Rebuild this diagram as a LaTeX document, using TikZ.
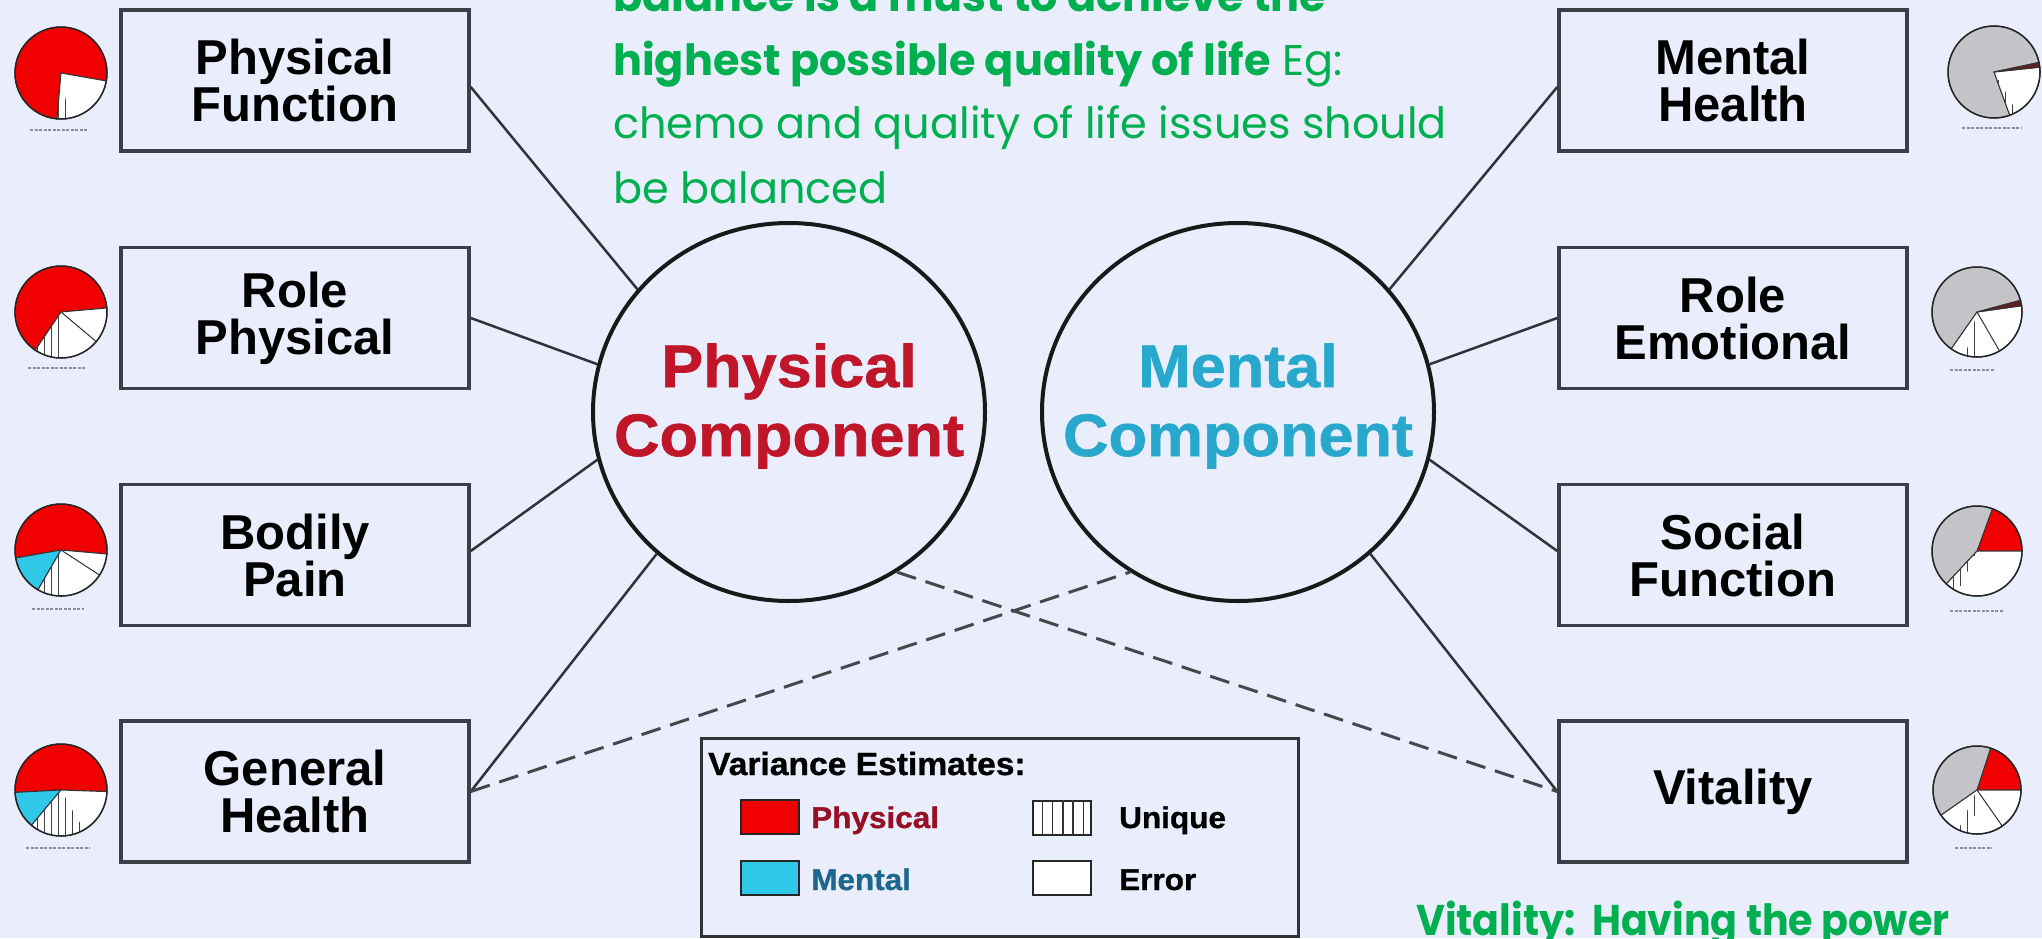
\documentclass[tikz,border=0pt]{standalone}
\usepackage{fontspec}
\setmainfont{Liberation Sans}
\newfontfamily\heavyfont[FakeStretch=1.05,FakeBold=1]{Liberation Sans}
\newfontfamily\greenfont{Poppins}
\newfontfamily\greennarrow[FakeStretch=0.92]{Poppins}
\usetikzlibrary{shapes.geometric}
\definecolor{bg}{RGB}{234,237,251}
\definecolor{boxgray}{RGB}{62,62,72}
\definecolor{linegray}{RGB}{50,50,56}
\definecolor{txtgreen}{RGB}{0,176,80}
\definecolor{pred}{RGB}{240,0,0}
\definecolor{pcyan}{RGB}{48,200,232}
\definecolor{pgray}{RGB}{196,196,200}
\definecolor{sliver}{RGB}{96,32,32}
\definecolor{physred}{RGB}{192,22,42}
\definecolor{mentcyan}{RGB}{40,168,204}
\definecolor{legred}{RGB}{150,16,36}
\definecolor{legblue}{RGB}{28,104,140}
\definecolor{capgray}{RGB}{140,140,150}
\newcommand\pieslice[4]{\filldraw[fill=#1,draw=black!80,line width=1] (0,0) -- (#2:#4) arc[start angle=#2, end angle=#3, radius=#4] -- cycle;}
\newcommand\pieStripes[3]{\begin{scope}\clip (0,0) -- (#1:#3) arc[start angle=#1, end angle=#2, radius=#3] -- cycle;
\foreach \sx in {-45,-38,...,45}{\draw[line width=1,black!75] (\sx,-50) -- (\sx,50);}\end{scope}}
\tikzset{
  box/.style={draw=boxgray, line width=3.5, fill=bg, minimum width=348, minimum height=141, inner sep=0,
    font=\fontsize{49}{47}\selectfont\bfseries, align=center},
  comp/.style={draw=black!90, line width=4, ellipse, minimum width=392, minimum height=378, inner sep=0},
  comptext/.style={font=\heavyfont\bfseries\fontsize{60}{69}\selectfont, align=center, inner sep=0},
  conn/.style={draw=linegray, line width=2.5},
  dashconn/.style={draw=linegray!90, line width=3, dash pattern=on 20pt off 10pt},
  gtext/.style={text=txtgreen, anchor=base west, inner sep=0, font=\greenfont\fontsize{43}{64}\selectfont},
  gbold/.style={text=txtgreen, anchor=base west, inner sep=0, font=\greenfont\bfseries\fontsize{43}{64}\selectfont},
  legtext/.style={anchor=base west, inner sep=0, font=\heavyfont\bfseries\fontsize{30}{30}\selectfont},
  swatch/.style={draw=black!85, line width=2, minimum width=58, minimum height=34, inner sep=0},
  capline/.style={draw=capgray, line width=1.5, dash pattern=on 3pt off 1.5pt},
}
\begin{document}
\begin{tikzpicture}[x=1pt,y=-1pt]
\useasboundingbox (0,0) rectangle (2042,938);
\fill[bg] (0,0) rectangle (2042,938);

% green text
\node[gbold] (t1) at (613,11) {balance is a must to achieve the};
\node[gtext] (t2) at (613,75) {\textbf{highest possible quality of life} Eg:};
\node[gtext] (t3) at (613,138) {chemo and quality of life issues should};
\node[gtext] (t4) at (613,203) {be balanced};
\node[text=txtgreen, anchor=base west, inner sep=0, font=\greennarrow\bfseries\fontsize{43}{64}\selectfont] (t5) at (1416,935) {Vitality:\ \ Having the power};

% boxes
\node[box] (pf) at (295,80.5) {Physical\\Function};
\node[box] (rp) at (295,318) {Role\\Physical};
\node[box] (bp) at (295,555) {Bodily\\Pain};
\node[box] (gh) at (295,791.5) {General\\Health};
\node[box] (mh) at (1733,80.5) {Mental\\Health};
\node[box] (re) at (1733,318) {Role\\Emotional};
\node[box] (sf) at (1733,555) {Social\\Function};
\node[box] (vt) at (1733,791.5) {Vitality};

% components
\node[comp] (pc) at (789,412) {};
\node[comp] (mc) at (1238,412) {};
\node[comptext, text=physred] (pct) at (789,406) {Physical\\Component};
\node[comptext, text=mentcyan] (mct) at (1238,406) {Mental\\Component};

% connectors
\draw[conn] ([yshift=-6.5pt]pf.east) -- (pc.141);
\draw[conn] (rp.east) -- (pc.166);
\draw[conn] ([yshift=4pt]bp.east) -- (pc.194);
\draw[conn] (gh.east) -- (pc.227);
\draw[conn] ([yshift=-6.5pt]mh.west) -- (mc.39);
\draw[conn] (re.west) -- (mc.14);
\draw[conn] ([yshift=4pt]sf.west) -- (mc.346);
\draw[conn] (vt.west) -- (mc.313);
\draw[dashconn] (gh.east) -- (mc.236);
\draw[dashconn] (pc.304) -- (vt.west);

% legend
\node[draw=linegray, line width=3, minimum width=597, minimum height=198, inner sep=0] (legend) at (999.5,837) {};
\node[anchor=base west, inner sep=0, font=\heavyfont\bfseries\fontsize{32}{32}\selectfont] (legt) at (708,775) {Variance Estimates:};
\node[swatch, fill=pred] (swp) at (770,817) {};
\node[swatch, fill=pcyan] (swm) at (770,877.5) {};
\node[swatch, fill=white] (swu) at (1062,818) {};
\node[swatch, fill=white] (swe) at (1062,877.5) {};
\foreach \i in {1,...,5}{\draw[line width=1.5,black!80] ([xshift=\i*10.3pt]swu.north west) -- ([xshift=\i*10.3pt]swu.south west);}
\node[legtext, text=legred] (lp) at (811,828) {Physical};
\node[legtext, text=legblue] (lm) at (811,890) {Mental};
\node[legtext] (lu) at (1119,828) {Unique};
\node[legtext] (le) at (1119,890) {Error};

% pies left
\begin{scope}[shift={(61,73)},yscale=-1]
\pieslice{pred}{-10}{265}{46}\pieslice{white}{265}{350}{46}\pieStripes{265}{280}{46}
\draw[black!85,line width=1.5] (0,0) circle[radius=46];
\end{scope}
\begin{scope}[shift={(61,312)},yscale=-1]
\pieslice{pred}{5}{236}{46}\pieslice{white}{236}{365}{46}\pieStripes{236}{275}{46}
\draw[black!80,line width=1] (0,0) -- (320:46);
\draw[black!85,line width=1.5] (0,0) circle[radius=46];
\end{scope}
\begin{scope}[shift={(61,550)},yscale=-1]
\pieslice{pred}{-5}{190}{46}\pieslice{pcyan}{190}{240}{46}\pieslice{white}{240}{355}{46}\pieStripes{240}{270}{46}
\draw[black!80,line width=1] (0,0) -- (327:46);
\draw[black!85,line width=1.5] (0,0) circle[radius=46];
\end{scope}
\begin{scope}[shift={(61,790)},yscale=-1]
\pieslice{pred}{-2}{183}{46}\pieslice{pcyan}{183}{230}{46}\pieslice{white}{230}{358}{46}\pieStripes{230}{300}{46}
\draw[black!85,line width=1.5] (0,0) circle[radius=46];
\end{scope}
% pies right
\begin{scope}[shift={(1994,72)},yscale=-1]
\pieslice{pgray}{12}{290}{46}\pieslice{white}{290}{366}{46}\pieslice{sliver}{6}{12}{46}\pieStripes{290}{300}{46}
\draw[black!85,line width=1.5] (0,0) circle[radius=46];
\end{scope}
\begin{scope}[shift={(1977,312)},yscale=-1]
\pieslice{pgray}{15}{235}{45}\pieslice{white}{235}{368}{45}\pieslice{sliver}{8}{15}{45}\pieStripes{255}{275}{45}
\draw[black!80,line width=1] (0,0) -- (300:45);
\draw[black!85,line width=1.5] (0,0) circle[radius=45];
\end{scope}
\begin{scope}[shift={(1977,551)},yscale=-1]
\pieslice{pred}{0}{70}{45}\pieslice{pgray}{70}{227}{45}\pieslice{white}{227}{360}{45}\pieStripes{227}{245}{45}
\draw[black!85,line width=1.5] (0,0) circle[radius=45];
\end{scope}
\begin{scope}[shift={(1977,790)},yscale=-1]
\pieslice{pred}{0}{72}{44}\pieslice{pgray}{72}{215}{44}\pieslice{white}{215}{360}{44}\pieStripes{245}{265}{44}
\draw[black!80,line width=1] (0,0) -- (305:44);
\draw[black!85,line width=1.5] (0,0) circle[radius=44];
\end{scope}

% tiny pie captions
\draw[capline] (30,130) -- (88,130);
\draw[capline] (28,368) -- (86,368);
\draw[capline] (32,609) -- (84,609);
\draw[capline] (26,848) -- (90,848);
\draw[capline] (1962,128) -- (2022,128);
\draw[capline] (1950,370) -- (1994,370);
\draw[capline] (1950,611) -- (2004,611);
\draw[capline] (1955,848) -- (1992,848);
\end{tikzpicture}
\end{document}
